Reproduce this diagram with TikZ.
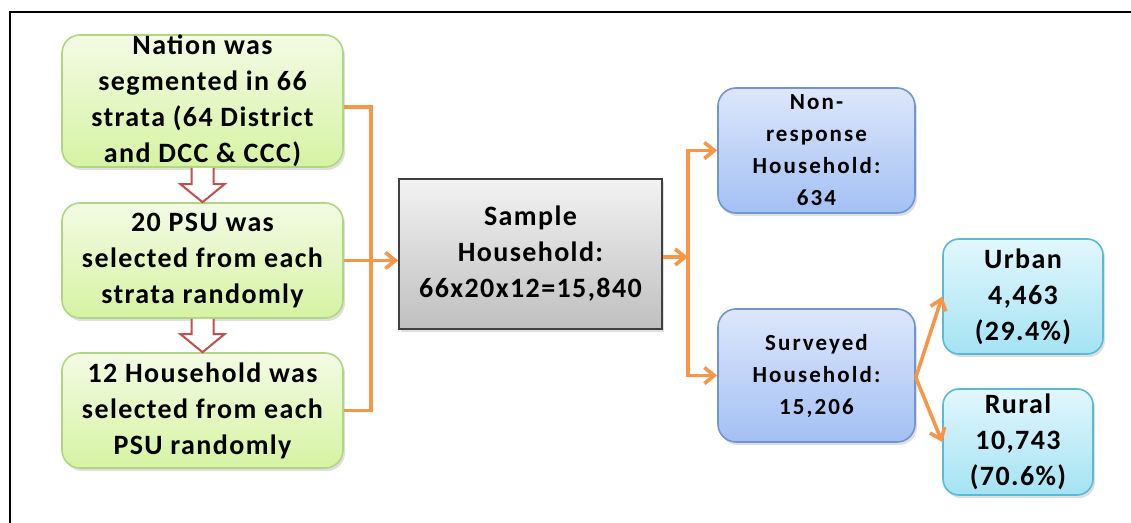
\documentclass[tikz,border=0pt]{standalone}
\usepackage{fontspec}
\setmainfont{Carlito}[LetterSpace=5]
\usepackage{tikz}
\usetikzlibrary{arrows.meta}
\usetikzlibrary{calc}
\usetikzlibrary{shadows}
\definecolor{boxgreen}{RGB}{214,243,163}
\definecolor{boxgreenlt}{RGB}{243,251,228}
\definecolor{linegreen}{RGB}{176,214,128}
\definecolor{boxblue}{RGB}{163,192,244}
\definecolor{boxbluelt}{RGB}{221,231,251}
\definecolor{lineblue}{RGB}{111,149,212}
\definecolor{boxcyan}{RGB}{164,227,243}
\definecolor{boxcyanlt}{RGB}{226,247,253}
\definecolor{linecyan}{RGB}{90,185,211}
\definecolor{flowred}{RGB}{192,80,77}
\definecolor{floworange}{RGB}{247,150,70}
\newcommand{\orangearrow}{\draw[floworange, line width=1.8pt, -{Straight Barb[length=5pt, width=8pt]}]}
\newcommand{\blockarrow}[2]{
    \draw[flowred, line width=1pt, fill=white, line join=miter]
        ([xshift=-5.5pt]#1.south) -- ([xshift=-5.5pt, yshift=9pt]#2.north)
        -- ([xshift=-11pt, yshift=9pt]#2.north) -- (#2.north)
        -- ([xshift=11pt, yshift=9pt]#2.north) -- ([xshift=5.5pt, yshift=9pt]#2.north)
        -- ([xshift=5.5pt]#1.south);
}

\begin{document}
\begin{tikzpicture}[x=0.5pt, y=-0.5pt,
    box/.style={rounded corners=9pt, align=center, line width=0.8pt, inner sep=0pt,
        drop shadow={opacity=0.25, shadow xshift=1pt, shadow yshift=-1.5pt},
        font=\fontsize{14}{18}\selectfont\bfseries},
    greenbox/.style={box, draw=linegreen, top color=boxgreenlt, bottom color=boxgreen,
        minimum width=140.5pt},
    bluebox/.style={box, draw=lineblue, top color=boxbluelt, bottom color=boxblue,
        minimum width=98.5pt,
        font=\fontsize{11.5}{16}\selectfont\addfontfeatures{LetterSpace=9}\bfseries},
    cyanbox/.style={box, rounded corners=8pt, draw=linecyan, top color=boxcyanlt,
        bottom color=boxcyan},
    sumbox/.style={box, rounded corners=0pt, draw=black!75, top color=black!5,
        bottom color=black!25, minimum width=131.5pt, minimum height=75pt}]
    \clip (0, 0) rectangle (1131, 523);
    \fill[white] (0, 0) rectangle (1131, 523);

    % Draw frame
    \draw[line width=1pt] (9.5, 540) -- (9.5, 12.5) -- (1140, 12.5);

    % Draw sampling steps
    \node[greenbox, minimum height=66pt] (strata) at (202.5, 101)
        {Nation was\\segmented in 66\\strata (64 District\\and DCC \& CCC)};
    \node[greenbox, minimum height=57.5pt] (psu) at (202.5, 260.5)
        {20 PSU was\\selected from each\\strata randomly};
    \node[greenbox, minimum height=57.5pt] (hh) at (202.5, 410.5)
        {12 Household was\\selected from each\\PSU randomly};

    \blockarrow{strata}{psu}
    \blockarrow{psu}{hh}

    % Draw sample and outcomes
    \node[sumbox] (sample) at (530.5, 254) {Sample\\Household:\\66x20x12=15,840};
    \node[bluebox, minimum height=62.5pt] (nonresp) at (816.5, 150.5)
        {Non-\\response\\Household:\\634};
    \node[bluebox, minimum height=66.5pt] (surveyed) at (816.5, 375.5)
        {Surveyed\\Household:\\15,206};
    \node[cyanbox, minimum width=80pt, minimum height=57.5pt] (urban) at (1023, 296.5)
        {Urban\\4,463\\(29.4\%)};
    \node[cyanbox, minimum width=75pt, minimum height=53pt] (rural) at (1018, 442)
        {Rural\\10,743\\(70.6\%)};

    % Draw connectors
    \coordinate (joinl) at ($(psu.east)!0.5!(sample.west)$);
    \coordinate (joinr) at (688, 257);
    \draw[floworange, line width=1.8pt] ([yshift=-3pt]strata.east) -| (joinl) |- (hh.east);
    \orangearrow (psu.east) -- (psu.east -| sample.west);
    \orangearrow (sample.east |- joinr) -- (joinr);
    \orangearrow (joinr) |- (nonresp.west);
    \orangearrow (joinr) |- (surveyed.west);
    \orangearrow ([yshift=-1pt]surveyed.east) -- (urban.west);
    \orangearrow ([yshift=-1pt]surveyed.east) -- (rural.west);
\end{tikzpicture}
\end{document}
